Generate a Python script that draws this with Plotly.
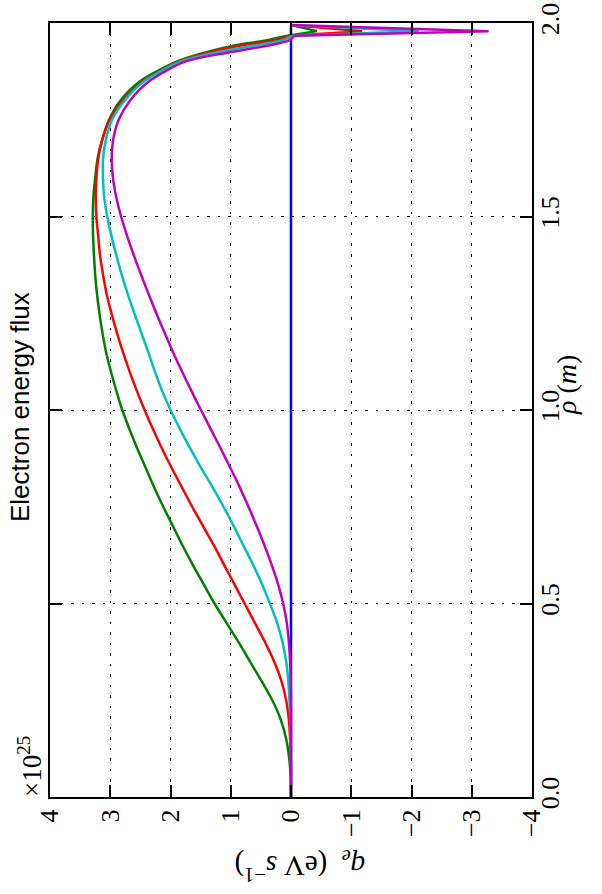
import plotly.graph_objects as go

# rho grid (m)
rho = [0.00, 0.05, 0.10, 0.15, 0.20, 0.25, 0.30, 0.35, 0.40, 0.45,
       0.50, 0.55, 0.60, 0.65, 0.70, 0.75, 0.80, 0.85, 0.90, 0.95,
       1.00, 1.05, 1.10, 1.15, 1.20, 1.25, 1.30, 1.35, 1.40, 1.45,
       1.50, 1.55, 1.60, 1.65, 1.70, 1.75, 1.80, 1.85, 1.90,
       1.92, 1.94, 1.955, 1.967, 1.979, 1.995]

# electron energy flux, units of 1e25 eV/s
q_blue = [0.0] * len(rho)
q_green = [0.0, 0.005, 0.03, 0.08, 0.17, 0.31, 0.49, 0.68, 0.87, 1.07,
           1.27, 1.45, 1.63, 1.80, 1.96, 2.12, 2.27, 2.41, 2.55, 2.68,
           2.80, 2.90, 2.99, 3.07, 3.13, 3.18, 3.22, 3.25, 3.27, 3.285,
           3.29, 3.28, 3.25, 3.21, 3.13, 3.02, 2.83, 2.50, 1.90,
           1.51, 1.00, 0.42, 0.06, -0.43, 0.0]
q_red = [0.0, 0.0, 0.005, 0.015, 0.035, 0.08, 0.16, 0.28, 0.43, 0.60,
         0.77, 0.94, 1.11, 1.28, 1.46, 1.64, 1.81, 1.98, 2.14, 2.29,
         2.43, 2.56, 2.68, 2.79, 2.89, 2.98, 3.06, 3.12, 3.17, 3.20,
         3.23, 3.24, 3.23, 3.20, 3.13, 3.01, 2.79, 2.45, 1.86,
         1.46, 0.90, 0.27, 0.02, -1.18, 0.0]
q_cyan = [0.0, 0.0, 0.0, 0.005, 0.01, 0.025, 0.045, 0.08, 0.14, 0.23,
          0.35, 0.48, 0.63, 0.79, 0.95, 1.12, 1.30, 1.49, 1.67, 1.84,
          2.00, 2.14, 2.26, 2.37, 2.485, 2.60, 2.71, 2.81, 2.90, 2.98,
          3.05, 3.10, 3.12, 3.12, 3.07, 2.97, 2.76, 2.43, 1.84,
          1.36, 0.68, 0.15, -0.02, -2.12, 0.0]
q_magenta = [0.0, 0.0, 0.0, 0.0, 0.0, 0.0, 0.005, 0.015, 0.035, 0.07,
             0.13, 0.215, 0.32, 0.44, 0.57, 0.705, 0.85, 1.005, 1.165, 1.33,
             1.495, 1.655, 1.81, 1.96, 2.10, 2.235, 2.365, 2.49, 2.61, 2.72,
             2.82, 2.90, 2.955, 2.975, 2.95, 2.86, 2.67, 2.35, 1.76,
             1.18, 0.44, 0.03, -0.06, -3.28, 0.0]

q_ticks = [4, 3, 2, 1, 0, -1, -2, -3, -4]
rho_ticks = [0.0, 0.5, 1.0, 1.5, 2.0]

fig = go.Figure()

# blue (zero) line first, underneath
fig.add_trace(go.Scatter(x=q_blue, y=rho, mode="lines",
                         line=dict(color="#0000ff", width=2.5),
                         showlegend=False, hoverinfo="skip"))

series = [
    (q_green, "#008000"),
    (q_red, "#ff0000"),
    (q_cyan, "#00bfbf"),
    (q_magenta, "#bf00bf"),
]
n_spike = 3  # last points form the sharp edge spike
for vals, col in series:
    # smooth body of the profile
    fig.add_trace(go.Scatter(x=vals[:-n_spike + 1], y=rho[:-n_spike + 1],
                             mode="lines",
                             line=dict(color=col, width=2.5, shape="spline",
                                       smoothing=0.8),
                             showlegend=False, hoverinfo="skip"))
    # sharp spike at the edge
    fig.add_trace(go.Scatter(x=vals[-n_spike:], y=rho[-n_spike:],
                             mode="lines",
                             line=dict(color=col, width=2.5),
                             showlegend=False, hoverinfo="skip"))

serif = "Liberation Serif"
grid_dash = "2.5px,8px"

fig.update_layout(
    width=602, height=894,
    margin=dict(l=50, r=70, t=23, b=97),
    paper_bgcolor="white", plot_bgcolor="white",
    xaxis=dict(
        range=[4, -4], tickmode="array", tickvals=q_ticks,
        tickangle=-90, tickfont=dict(family=serif, size=26, color="black"),
        showline=True, linecolor="black", linewidth=2, mirror="ticks",
        ticks="inside", ticklen=12, tickwidth=1.5, tickcolor="black",
        showgrid=True, gridcolor="black", gridwidth=1, griddash=grid_dash,
        zeroline=False, automargin=False,
    ),
    yaxis=dict(
        range=[0, 2], tickmode="array", tickvals=rho_ticks, tickformat=".1f",
        side="right", tickangle=-90,
        tickfont=dict(family=serif, size=26, color="black"),
        showline=True, linecolor="black", linewidth=2, mirror="ticks",
        ticks="inside", ticklen=12, tickwidth=1.5, tickcolor="black",
        showgrid=True, gridcolor="black", gridwidth=1, griddash=grid_dash,
        zeroline=False, automargin=False, ticklabelstandoff=-6,
    ),
)

fig.add_annotation(text="Electron energy flux", xref="paper", yref="paper",
                   x=-0.062, y=0.504, textangle=-90, showarrow=False,
                   xanchor="center", yanchor="middle",
                   font=dict(family="Liberation Sans", size=26, color="black"))
fig.add_annotation(text="<i>ρ</i> (<i>m</i>)", xref="paper", yref="paper",
                   x=1.07, y=0.532, textangle=-90, showarrow=False,
                   xanchor="center", yanchor="middle",
                   font=dict(family=serif, size=28, color="black"))
fig.add_annotation(text="<i>q<sub>e</sub></i>  (eV <i>s</i><sup>−1</sup>)",
                   xref="paper", yref="paper",
                   x=0.519, y=-0.09, textangle=180, showarrow=False,
                   xanchor="center", yanchor="middle",
                   font=dict(family=serif, size=29, color="black"))
fig.add_annotation(text="×10<sup>25</sup>", xref="paper", yref="paper",
                   x=-0.0415, y=0.04, textangle=-90, showarrow=False,
                   xanchor="center", yanchor="middle",
                   font=dict(family=serif, size=27, color="black"))

fig.write_html("out.html", config={"displayModeBar": False},
               post_script="document.body.style.margin='0';")
